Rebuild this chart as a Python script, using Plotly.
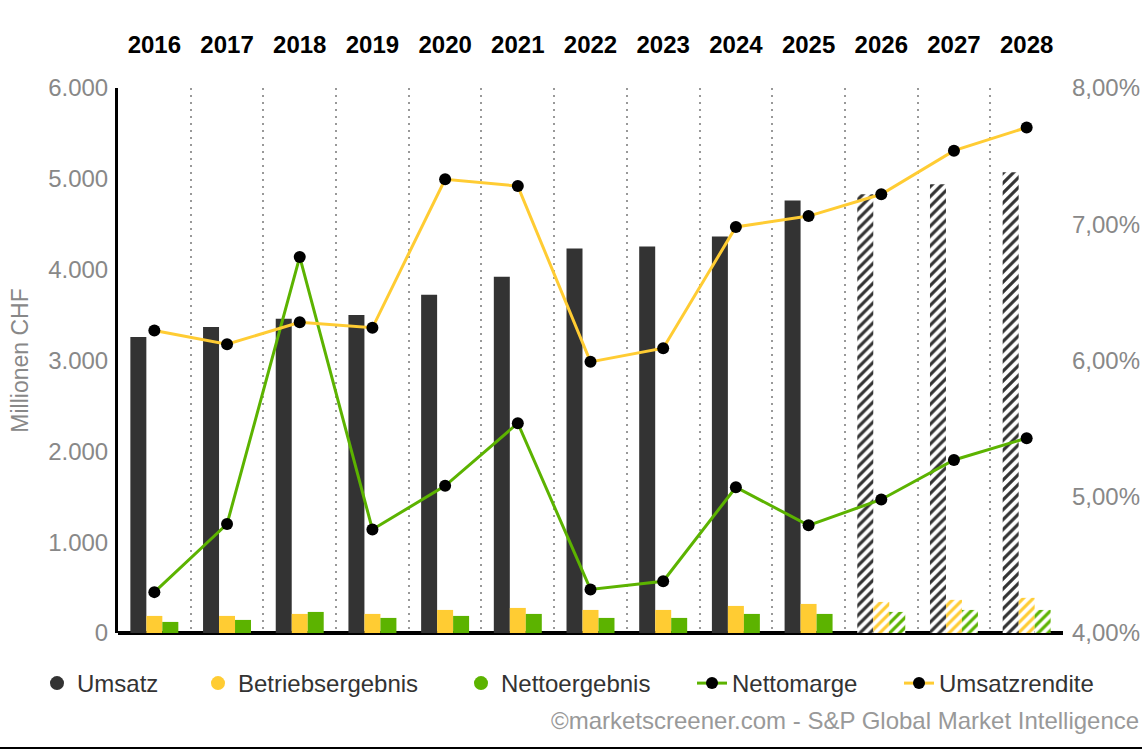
import plotly.graph_objects as go

years = ["2016", "2017", "2018", "2019", "2020", "2021", "2022",
         "2023", "2024", "2025", "2026", "2027", "2028"]
umsatz = [3260, 3370, 3460, 3500, 3724, 3923, 4232, 4254, 4365, 4762, 4829, 4939, 5072]
betriebsergebnis = [188, 188, 210, 210, 254, 276, 254, 254, 298, 320, 342, 365, 387]
nettoergebnis = [122, 144, 232, 166, 188, 210, 166, 166, 210, 210, 232, 254, 254]
nettomarge = [4.30, 4.80, 6.76, 4.76, 5.08, 5.54, 4.32, 4.38, 5.07, 4.79, 4.98, 5.27, 5.43]
umsatzrendite = [6.22, 6.12, 6.28, 6.24, 7.33, 7.28, 5.99, 6.09, 6.98, 7.06, 7.22, 7.54, 7.71]
estimate_from = "2026"

DARK = "#333333"
YELLOW = "#FFCC33"
GREEN = "#5CB300"
FONT = "Arial, Liberation Sans, sans-serif"

PL, PR, PT, PB = 118, 79, 88, 117
W, H = 1142, 750
PW, PH = W - PL - PR, H - PT - PB


def px_x(px):
    return (px - PL) / PW


def px_y(py):
    return (H - PB - py) / PH


shapes = ["/" if y >= estimate_from else "" for y in years]

fig = go.Figure()


def bar(name, vals, color):
    return go.Bar(
        x=years, y=vals, name=name, showlegend=False, legendgroup=name,
        marker=dict(
            color=color, line=dict(width=0),
            pattern=dict(shape=shapes, fillmode="replace", fgcolor=color,
                         bgcolor="white", size=7, solidity=0.45),
        ),
        hoverinfo="x+y",
    )


fig.add_trace(bar("Umsatz", umsatz, DARK))
fig.add_trace(bar("Betriebsergebnis", betriebsergebnis, YELLOW))
fig.add_trace(bar("Nettoergebnis", nettoergebnis, GREEN))

legend_names = ["legend", "legend2", "legend3", "legend4", "legend5"]
legend_left_px = [37, 198, 461, 692, 899]

# legend proxies (circles for bar series)
for i, (name, color) in enumerate([("Umsatz", DARK), ("Betriebsergebnis", YELLOW),
                                   ("Nettoergebnis", GREEN)]):
    fig.add_trace(go.Scatter(x=[None], y=[None], mode="markers", name=name,
                             legendgroup=name, legend=legend_names[i],
                             marker=dict(symbol="circle", size=14, color=color)))

fig.add_trace(go.Scatter(x=years, y=nettomarge, name="Nettomarge", yaxis="y2",
                         mode="lines+markers", legend="legend4",
                         line=dict(color=GREEN, width=3),
                         marker=dict(color="black", size=12)))
fig.add_trace(go.Scatter(x=years, y=umsatzrendite, name="Umsatzrendite", yaxis="y2",
                         mode="lines+markers", legend="legend5",
                         line=dict(color=YELLOW, width=3),
                         marker=dict(color="black", size=12)))

legend_layout = {}
for ln, lx in zip(legend_names, legend_left_px):
    legend_layout[ln] = dict(orientation="h", x=px_x(lx), y=px_y(661),
                             xanchor="left", yanchor="top",
                             font=dict(size=24, color="#333333"),
                             bgcolor="rgba(0,0,0,0)")

fig.update_layout(
    width=W, height=H,
    margin=dict(l=PL, r=PR, t=PT, b=PB, autoexpand=False),
    paper_bgcolor="white", plot_bgcolor="white",
    font=dict(family=FONT, size=24, color="#333333"),
    separators=",.",
    barmode="group", bargap=0.34, bargroupgap=0,
    xaxis=dict(
        type="category", side="top", tickson="boundaries",
        range=[-0.5, len(years) - 0.5],
        showgrid=True, gridcolor="#999999", gridwidth=2, griddash="2px,5px",
        ticks="", showline=False, zeroline=False,
        tickfont=dict(family=FONT, size=24, color="black", weight="bold"),
        ticklabelstandoff=29,
    ),
    yaxis=dict(
        range=[0, 6000], dtick=1000, tickformat=",.0f",
        showgrid=False, showline=True, linecolor="black", linewidth=3,
        zeroline=True, zerolinecolor="black", zerolinewidth=4,
        ticks="", ticklabelstandoff=2,
        tickfont=dict(size=24, color="#888888"),
        title=dict(text="Millionen CHF", font=dict(size=23, color="#888888"), standoff=14),
    ),
    yaxis2=dict(
        overlaying="y", side="right", range=[4, 8], dtick=1,
        tickformat=".2f", ticksuffix="%",
        showgrid=False, showline=False, zeroline=False, ticks="",
        ticklabelstandoff=8,
        tickfont=dict(size=24, color="#888888"),
    ),
    annotations=[dict(text="©marketscreener.com - S&P Global Market Intelligence",
                      xref="paper", yref="paper", x=px_x(1141), y=px_y(720),
                      xanchor="right", yanchor="middle", showarrow=False,
                      font=dict(size=24, color="#999999"))],
    shapes=[dict(type="line", xref="paper", yref="paper",
                 x0=px_x(-10), x1=px_x(W + 10), y0=px_y(748), y1=px_y(748),
                 line=dict(color="black", width=2))],
    **legend_layout,
)

fig.write_html("out.html")
